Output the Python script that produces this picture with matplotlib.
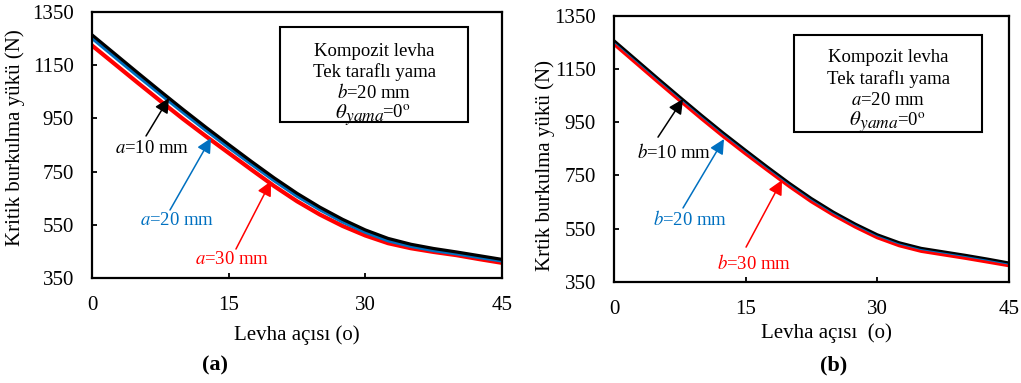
import numpy as np
import matplotlib
matplotlib.use('agg')
import matplotlib.pyplot as plt
from matplotlib.patches import Rectangle

plt.rcParams['font.family'] = ['Liberation Serif', 'DejaVu Serif']
plt.rcParams['mathtext.fontset'] = 'stix'

# levha acisi (derece)
angle = [0, 2.5, 5, 7.5, 10, 12.5, 15, 17.5, 20, 22.5, 25, 27.5, 30, 32.5, 35, 37.5, 40, 42.5, 45]

# (a) b=20 mm, a degisiyor
a10 = [1265, 1194, 1123, 1053, 984, 917, 852, 788, 726, 668, 616, 570, 530, 498, 476, 460, 447, 433, 419]
a20 = [1252, 1181, 1110, 1041, 972, 905, 840, 777, 715, 657, 606, 560, 521, 489, 468, 452, 440, 426, 413]
a30 = [1225, 1155, 1085, 1016, 948, 883, 820, 757, 695, 638, 588, 545, 509, 480, 461, 447, 435, 420, 406]

# (b) a=20 mm, b degisiyor
b10 = [1258, 1187, 1116, 1046, 977, 910, 846, 783, 722, 665, 614, 569, 529, 499, 478, 465, 452, 438, 423]
b20 = [1254, 1183, 1112, 1042, 973, 906, 842, 779, 718, 661, 610, 565, 525, 495, 474, 461, 448, 434, 419]
b30 = [1245, 1174, 1103, 1033, 964, 897, 833, 771, 710, 653, 603, 558, 518, 488, 467, 454, 441, 427, 413]

x_ticks = [0, 15, 30, 45]
y_ticks = [350, 550, 750, 950, 1150, 1350]

BLACK = '#000000'
BLUE = '#0070C0'
RED = '#FF0000'

fig = plt.figure(figsize=(10.21, 3.83), dpi=100)
ax1 = fig.add_axes([0.0901, 0.2749, 0.4016, 0.6930])
ax2 = fig.add_axes([0.6014, 0.2637, 0.3869, 0.6953])


def style_axis(ax):
    ax.set_xlim(0, 45)
    ax.set_ylim(350, 1350)
    ax.set_xticks(x_ticks)
    ax.set_yticks(y_ticks)
    for s in ax.spines.values():
        s.set_linewidth(1.6)
    ax.tick_params(direction='in', length=3.5, width=1.3, labelsize=15)
    ax.tick_params(axis='x', pad=13)
    ax.tick_params(axis='y', pad=13)


def theta_line(ax, cx, y):
    # theta_yama=0o, written piece by piece so the subscript stays big
    kw = dict(xycoords='axes fraction', textcoords='offset points', va='center', ha='left',
              zorder=6)
    ax.annotate(r'$\theta$', (cx, y), xytext=(-28.5, 0), fontsize=15, **kw)
    ax.annotate(r'$yama$', (cx, y), xytext=(-21, -4), fontsize=12.5, **kw)
    ax.annotate(r'=0$^{\rm o}$', (cx, y), xytext=(6, 0), fontsize=13.5, **kw)


def info_box(ax, box, cx, ys, lines):
    x0, y0, x1, y1 = box
    ax.add_patch(Rectangle((x0, y0), x1 - x0, y1 - y0, transform=ax.transAxes,
                           fill=False, edgecolor='black', lw=1.5, zorder=5))
    for y, t in zip(ys, lines):
        ax.text(cx, y, t, transform=ax.transAxes, ha='center', va='center',
                fontsize=13.5, zorder=6)
    theta_line(ax, cx, ys[-1] - 0.078)


def arrow_label(ax, text, color, tpos, tail, head):
    ax.annotate('', xy=head, xytext=tail,
                arrowprops=dict(arrowstyle='-|>', color=color, lw=1.1,
                                mutation_scale=22, shrinkA=0, shrinkB=0))
    ax.text(tpos[0], tpos[1], text, color=color, ha='center', va='center', fontsize=13.5)


# ---- (a)
ax1.plot(angle, a30, color=RED, lw=3.0)
ax1.plot(angle, a20, color=BLUE, lw=2.3)
ax1.plot(angle, a10, color=BLACK, lw=2.3)
style_axis(ax1)
ax1.set_xlabel('Levha açısı (o)', fontsize=15)
ax1.set_ylabel('Kritik burkulma yükü (N)', fontsize=15)
ax1.xaxis.set_label_coords(0.5, -0.178)
ax1.yaxis.set_label_coords(-0.163, 0.526)
info_box(ax1, (0.4585, 0.5878, 0.917, 0.9435), 0.688, [0.8515, 0.776, 0.697],
         ['Kompozit levha', 'Tek taraflı yama', '$b$=20 mm'])
arrow_label(ax1, '$a$=10 mm', BLACK, (6.59, 835), (5.93, 884), (8.45, 1027))
arrow_label(ax1, '$a$=20 mm', BLUE, (9.33, 564), (8.56, 605), (13.06, 876))
arrow_label(ax1, '$a$=30 mm', RED, (15.37, 417), (15.80, 458), (19.65, 714))

# ---- (b)
ax2.plot(angle, b30, color=RED, lw=3.0)
ax2.plot(angle, b20, color=BLUE, lw=1.6)
ax2.plot(angle, b10, color=BLACK, lw=1.6)
style_axis(ax2)
ax2.set_xlabel('Levha açısı  (o)', fontsize=15)
ax2.set_ylabel('Krtik burkulma yükü (N)', fontsize=15)
ax2.xaxis.set_label_coords(0.537, -0.154)
ax2.yaxis.set_label_coords(-0.149, 0.439)
info_box(ax2, (0.4557, 0.5644, 0.931, 0.9275), 0.694, [0.8437, 0.761, 0.683],
         ['Kompozit levha', 'Tek taraflı yama', '$a$=20 mm'])
arrow_label(ax2, '$b$=10 mm', BLACK, (6.84, 838), (5.01, 894), (7.86, 1037))
arrow_label(ax2, '$b$=20 mm', BLUE, (8.66, 583), (7.86, 628), (12.53, 887))
arrow_label(ax2, '$b$=30 mm', RED, (15.95, 421), (15.04, 481), (19.14, 733))

fig.text(0.2106, 0.047, '(a)', fontsize=16, fontweight='bold', ha='center', va='center')
fig.text(0.816, 0.047, '(b)', fontsize=16, fontweight='bold', ha='center', va='center')

fig.savefig('out.png', dpi=100)
